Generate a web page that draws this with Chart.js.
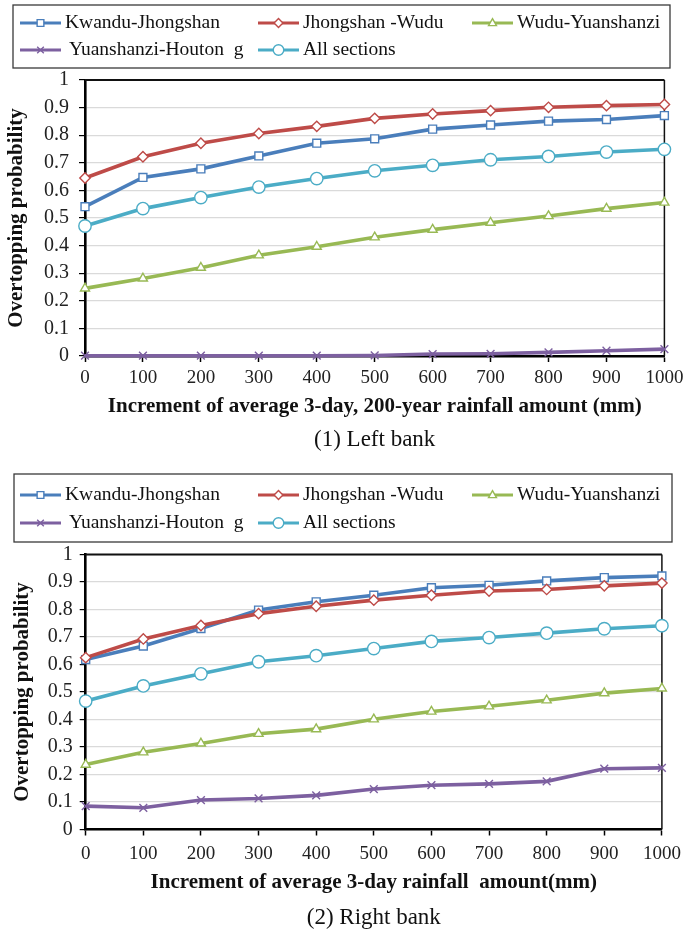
<!DOCTYPE html>
<html>
<head>
<meta charset="utf-8">
<script src="https://cdn.jsdelivr.net/npm/chart.js@4.4.1/dist/chart.umd.min.js"></script>
<style>
html,body{margin:0;padding:0;background:#fff;}
#wrap{position:relative;width:688px;height:932px;overflow:hidden;}
.c{position:absolute;left:0;width:688px;height:466px;}
</style>
</head>
<body>
<div id="wrap">
  <div class="c" style="top:0"><canvas id="c1"></canvas></div>
  <div class="c" style="top:466px"><canvas id="c2"></canvas></div>
</div>
<script>
// ---------------- DATA ----------------
const categories = ['0','100','200','300','400','500','600','700','800','900','1000'];
const seriesNames = ['Kwandu-Jhongshan','Jhongshan -Wudu','Wudu-Yuanshanzi','Yuanshanzi-Houton  g','All sections'];
const yTicks = [0,0.1,0.2,0.3,0.4,0.5,0.6,0.7,0.8,0.9,1];

// (1) Left bank
const kwanduLeft = [0.541,0.647,0.678,0.725,0.771,0.787,0.822,0.837,0.851,0.857,0.871];
const jhongshanLeft = [0.645,0.722,0.771,0.806,0.832,0.861,0.877,0.889,0.901,0.907,0.911];
const wuduLeft = [0.245,0.281,0.320,0.365,0.396,0.430,0.458,0.483,0.507,0.534,0.556];
const yuanshanziLeft = [0.001,0.001,0.001,0.001,0.001,0.002,0.007,0.008,0.013,0.019,0.025];
const allLeft = [0.471,0.534,0.574,0.612,0.643,0.671,0.691,0.711,0.723,0.739,0.749];

// (2) Right bank
const kwanduRight = [0.618,0.667,0.731,0.798,0.828,0.852,0.879,0.888,0.904,0.916,0.922];
const jhongshanRight = [0.625,0.693,0.742,0.785,0.812,0.834,0.852,0.867,0.873,0.886,0.896];
const wuduRight = [0.236,0.281,0.313,0.348,0.365,0.401,0.429,0.448,0.470,0.496,0.513];
const yuanshanziRight = [0.085,0.079,0.107,0.113,0.124,0.147,0.161,0.166,0.175,0.221,0.224];
const allRight = [0.467,0.522,0.566,0.610,0.632,0.658,0.684,0.698,0.714,0.730,0.741];

// ---------------- STYLE ----------------
const FONT = "'Liberation Serif','Times New Roman',serif";
Chart.defaults.font.family = FONT;
const colors = ['#4A7EBB','#BE4B48','#98B954','#7D60A0','#4BACC6'];
const pStyles = ['rect','rectRot','triangle','crossRot','circle'];
const pRadius = [5.6,5.2,5.2,5.5,6.2];

function drawMarker(ctx, style, x, y, r, color){
  ctx.save();
  ctx.fillStyle = '#fff';
  ctx.strokeStyle = color;
  ctx.lineWidth = 1.4;
  ctx.beginPath();
  if (style === 'rect'){ const s = r*Math.SQRT1_2; ctx.rect(x-s,y-s,2*s,2*s); }
  else if (style === 'rectRot'){ ctx.moveTo(x,y-r); ctx.lineTo(x+r,y); ctx.lineTo(x,y+r); ctx.lineTo(x-r,y); ctx.closePath(); }
  else if (style === 'triangle'){ const h=r; ctx.moveTo(x,y-h); ctx.lineTo(x+h*0.9,y+h*0.6); ctx.lineTo(x-h*0.9,y+h*0.6); ctx.closePath(); }
  else if (style === 'circle'){ ctx.arc(x,y,r,0,Math.PI*2); }
  if (style === 'crossRot'){ const s=r*Math.SQRT1_2; ctx.moveTo(x-s,y-s); ctx.lineTo(x+s,y+s); ctx.moveTo(x+s,y-s); ctx.lineTo(x-s,y+s); ctx.stroke(); }
  else { ctx.fill(); ctx.stroke(); }
  ctx.restore();
}

const boxLegendPlugin = {
  id: 'boxLegend',
  afterDraw(chart, args, o){
    const ctx = chart.ctx;
    ctx.save();
    ctx.strokeStyle = '#3a3a3a';
    ctx.lineWidth = 1.3;
    ctx.strokeRect(o.left, o.top, o.right-o.left, o.bottom-o.top);
    const cols = [20, 258, 472];
    const rows = [o.row1, o.row2];
    chart.data.datasets.forEach((ds, i) => {
      const x = cols[i % 3], y = rows[Math.floor(i/3)];
      ctx.strokeStyle = ds.borderColor;
      ctx.lineWidth = 3.2;
      ctx.beginPath(); ctx.moveTo(x, y); ctx.lineTo(x+41, y); ctx.stroke();
      drawMarker(ctx, ds.pointStyle, x+20.5, y, ds.pointRadius*0.85, ds.borderColor);
      ctx.fillStyle = '#111';
      ctx.font = '19.5px ' + FONT;
      ctx.textBaseline = 'middle';
      ctx.textAlign = 'left';
      ctx.fillText(ds.label, x + 45 + (i===3 ? 4 : 0), y);
    });
    ctx.restore();
  }
};

const framePlugin = {
  id: 'frame',
  beforeDatasetsDraw(chart){
    const {ctx, chartArea:a} = chart;
    ctx.save();
    ctx.strokeStyle = '#111';
    ctx.lineWidth = 2;
    ctx.beginPath(); ctx.moveTo(a.left, a.top); ctx.lineTo(a.right, a.top); ctx.stroke();
    ctx.lineWidth = 1.5;
    ctx.beginPath(); ctx.moveTo(a.right, a.top); ctx.lineTo(a.right, a.bottom); ctx.stroke();
    ctx.restore();
  }
};

function makeChart(id, series, p){
  const datasets = series.map((vals, i) => ({
    label: seriesNames[i],
    data: vals,
    borderColor: colors[i],
    backgroundColor: colors[i],
    borderWidth: 3.6,
    tension: 0,
    pointStyle: pStyles[i],
    pointRadius: pRadius[i],
    pointHoverRadius: pRadius[i],
    pointBackgroundColor: '#fff',
    pointBorderColor: colors[i],
    pointBorderWidth: 1.4,
    clip: false,
    order: 5 - i
  }));
  return new Chart(document.getElementById(id), {
    type: 'line',
    data: { labels: categories, datasets },
    plugins: [framePlugin, boxLegendPlugin],
    options: {
      responsive: true,
      maintainAspectRatio: false,
      animation: false,
      devicePixelRatio: 1,
      layout: { padding: { top: p.padTop, left: 0, right: p.padRight, bottom: p.padBottom } },
      plugins: {
        legend: { display: false },
        tooltip: { enabled: false },
        title: {
          display: true, position: 'bottom', fullSize: false,
          text: p.caption, color: '#111',
          font: { family: FONT, size: 23, weight: 'normal', lineHeight: 1.2 },
          padding: { top: 3.4, bottom: 0 }
        },
        boxLegend: p.legend
      },
      scales: {
        x: {
          type: 'category', offset: false,
          grid: { display: true, drawOnChartArea: false, drawTicks: true, tickLength: 6, tickColor: '#000', tickWidth: 1.5 },
          border: { display: true, color: '#000', width: 2.6 },
          ticks: { color: '#222', font: { family: FONT, size: 19, lineHeight: 1.2 }, padding: p.xTickPad, maxRotation: 0, autoSkip: false },
          title: { display: true, text: p.xTitle, color: '#111', font: { family: FONT, size: 21, weight: 'bold', lineHeight: 1.2 }, padding: { top: 0, bottom: p.xTitlePadB } },
          afterFit: s => { s.height = p.xH; }
        },
        y: {
          min: 0, max: 1,
          afterBuildTicks: s => { s.ticks = yTicks.map(v => ({ value: v })); },
          ticks: { color: '#222', font: { family: FONT, size: 20 }, padding: p.yTickPad, callback: v => String(+v.toFixed(1)) },
          grid: { color: '#dadada', lineWidth: 1.2, drawTicks: true, tickLength: 6, tickColor: '#000', tickWidth: 1.2 },
          border: { display: true, color: '#000', width: 2.6 },
          title: { display: true, text: 'Overtopping probability', color: '#111', font: { family: FONT, size: 21, weight: 'bold', lineHeight: 1.2 }, padding: { top: p.yTitlePadT, bottom: 0 } },
          afterFit: s => { s.width = p.yW; }
        }
      }
    }
  });
}

makeChart('c1', [kwanduLeft, jhongshanLeft, wuduLeft, yuanshanziLeft, allLeft], {
  padTop: 80, padRight: 20, padBottom: 12.2,
  xH: 66.8, xTickPad: 4.6, xTitlePadB: 3.2, yW: 85, yTickPad: 10, yTitlePadT: 4.4,
  xTitle: 'Increment of average 3-day, 200-year rainfall amount (mm)',
  caption: '(1) Left bank',
  legend: { left: 13, top: 5, right: 670, bottom: 68, row1: 23, row2: 50 }
});

makeChart('c2', [kwanduRight, jhongshanRight, wuduRight, yuanshanziRight, allRight], {
  padTop: 88.5, padRight: 24.7, padBottom: 0.2,
  xH: 71.3, xTickPad: 7.1, xTitlePadB: 5.2, yW: 85.7, yTickPad: 7, yTitlePadT: 10.4,
  xTitle: 'Increment of average 3-day rainfall  amount(mm)',
  caption: '(2) Right bank',
  legend: { left: 14, top: 8, right: 672, bottom: 76, row1: 29, row2: 57 }
});
</script>
</body>
</html>
